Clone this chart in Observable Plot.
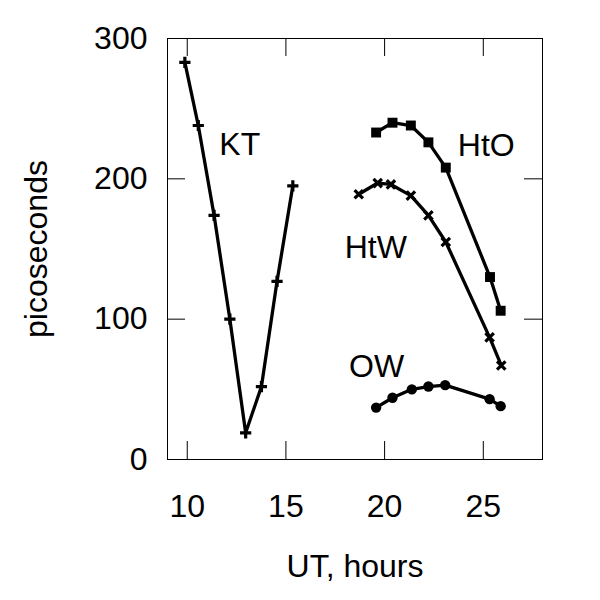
<!DOCTYPE html>
<html><head><meta charset="utf-8">
<script src="https://cdn.jsdelivr.net/npm/d3@7"></script>
<script src="https://cdn.jsdelivr.net/npm/@observablehq/plot@0.6"></script>
<style>body{margin:0;background:#fff}</style>
</head><body><div id="chart"></div>
<script>
// Series values (UT hours, picoseconds)
const ktX  = [9.88, 10.56, 11.36, 12.16, 12.96, 13.76, 14.55, 15.35];
const ktY  = [283, 238, 174, 100, 19, 52, 127, 195];
const htoX = [19.57, 20.40, 21.33, 22.22, 23.10, 25.34, 25.88];
const htoY = [233, 240, 238, 226, 208, 130, 106];
const htwX = [18.69, 19.65, 20.32, 21.33, 22.22, 23.10, 25.32, 25.91];
const htwY = [189, 197, 196, 188, 174, 155, 87, 67];
const owX  = [19.57, 20.40, 21.38, 22.22, 23.07, 25.32, 25.88];
const owY  = [37, 44, 50, 52, 53, 43, 38];
const seriesNames = ["KT", "HtO", "HtW", "OW"];
const xTicks = [10, 15, 20, 25];
const yTicks = [0, 100, 200, 300];
const xLabel = "UT, hours";
const yLabel = "picoseconds";

const toRows = (xs, ys) => xs.map((x, i) => ({x, y: ys[i]}));
const kt = toRows(ktX, ktY), hto = toRows(htoX, htoY), htw = toRows(htwX, htwY), ow = toRows(owX, owY);

const W = 600, H = 600, mL = 167, mR = 58, mT = 38, mB = 141;
const pw = W - mL - mR, ph = H - mT - mB, tl = 18;
const FS = 32;

const lineOpts = {x: "x", y: "y", stroke: "black", strokeWidth: 3.3};
const lblOpts = {x: "x", y: "y", text: "t", fontSize: FS, textAnchor: "start", lineAnchor: "middle", fill: "black"};

const chart = Plot.plot({
  width: W, height: H,
  marginLeft: mL, marginRight: mR, marginTop: mT, marginBottom: mB,
  x: {domain: [9, 28]},
  y: {domain: [0, 300]},
  style: {fontFamily: "'Liberation Sans', Arial, Helvetica, sans-serif", background: "white", color: "black"},
  marks: [
    Plot.frame({stroke: "black", strokeWidth: 1}),
    Plot.ruleX(xTicks, {x: d => d, insetTop: ph - tl, stroke: "black"}),
    Plot.ruleX(xTicks, {x: d => d, insetBottom: ph - tl, stroke: "black"}),
    Plot.ruleY(yTicks, {y: d => d, insetRight: pw - tl, stroke: "black"}),
    Plot.ruleY(yTicks, {y: d => d, insetLeft: pw - tl, stroke: "black"}),
    Plot.axisX({ticks: xTicks, tickSize: 0, tickPadding: 35, fontSize: FS, label: null, tickFormat: d => String(d)}),
    Plot.axisY({ticks: yTicks, tickSize: 0, tickPadding: 20, fontSize: FS, label: null, tickFormat: d => String(d)}),
    Plot.text([xLabel], {frameAnchor: "bottom", text: d => d, dy: 107, fontSize: FS, textAnchor: "middle", lineAnchor: "middle"}),
    Plot.text([yLabel], {frameAnchor: "left", text: d => d, dx: -131, rotate: -90, fontSize: FS, textAnchor: "middle", lineAnchor: "middle"}),
    Plot.line(kt, lineOpts),
    Plot.line(hto, lineOpts),
    Plot.line(htw, lineOpts),
    Plot.line(ow, lineOpts),
    Plot.dot(kt, {x: "x", y: "y", symbol: "plus", r: 3.7, stroke: "black", strokeWidth: 3.2}),
    Plot.dot(hto, {x: "x", y: "y", symbol: "square", r: 5.6, fill: "black", stroke: "none"}),
    Plot.dot(htw, {x: "x", y: "y", symbol: "times", r: 3.9, stroke: "black", strokeWidth: 3.2}),
    Plot.dot(ow, {x: "x", y: "y", symbol: "circle", r: 5.2, fill: "black", stroke: "none"}),
    Plot.text([{x: ktX[1], y: ktY[1], t: seriesNames[0]}], {...lblOpts, dx: 21, dy: 19}),
    Plot.text([{x: htoX[2], y: htoY[2], t: seriesNames[1]}], {...lblOpts, dx: 47, dy: 20}),
    Plot.text([{x: htwX[0], y: htwY[0], t: seriesNames[2]}], {...lblOpts, dx: -14, dy: 53}),
    Plot.text([{x: owX[0], y: owY[0], t: seriesNames[3]}], {...lblOpts, dx: -27, dy: -41})
  ]
});
document.getElementById("chart").appendChild(chart);
</script>
</body></html>
